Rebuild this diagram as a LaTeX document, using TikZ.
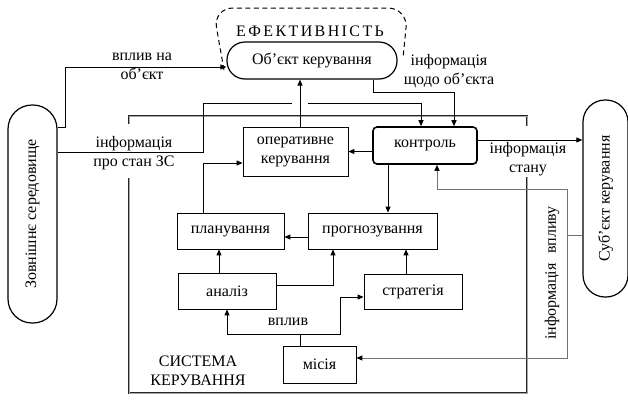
\documentclass[tikz,border=0pt]{standalone}
\usepackage{fontspec}
\setmainfont{Liberation Serif}
\newfontfamily\spacedfont[LetterSpace=15]{Liberation Serif}
\usetikzlibrary{arrows.meta,positioning,calc}

\begin{document}
\begin{tikzpicture}[x=1pt,y=-1pt,
  font=\fontsize{16}{19}\selectfont,
  blok/.style={draw, line width=0.8pt, inner sep=0pt, align=center},
  pill/.style={draw, line width=1.2pt, rounded corners=#1, inner sep=0pt},
  arr/.style={line width=1pt, -{Triangle[length=6pt,width=5pt]}},
  lin/.style={line width=1pt},
  fb/.style={line width=1pt, draw=black!55},
  fbarr/.style={line width=1pt, draw=black!55, -{Triangle[length=6pt,width=5pt,color=black]}},
  kordon/.style={draw=black!85, double=black!35, double distance=1pt, line width=0.9pt},
  lbl/.style={align=center, inner sep=0pt}
]
\useasboundingbox (0,0) rectangle (628,399);
% Efektyvnist
\draw[dashed, dash pattern=on 5pt off 3.5pt, line width=1pt, rounded corners=20pt]
  (224,70) -- (213,8) -- (408,8) -- (403,58);
\node[lbl, font=\spacedfont\fontsize{16}{19}\selectfont] (ef) at (310,31) {ЕФЕКТИВНІСТЬ};
% Boundary of the control system
\coordinate (kA) at (129,124);
\coordinate (kB) at (129,116);
\coordinate (kC) at (527,116);
\coordinate (kD) at (527,126);
\coordinate (kE) at (527,177);
\coordinate (kF) at (527,393);
\coordinate (kG) at (129,393);
\coordinate (kH) at (129,178);
\draw[kordon] (kA) -- (kB) -- (kC) -- (kD);
\draw[kordon] (kE) -- (kF) -- (kG) -- (kH);
% Outer blocks
\node[pill=18pt, minimum width=170pt, minimum height=37pt] (obj) at (312,60.5) {Об’єкт керування};
\node[pill=24pt, minimum width=49pt, minimum height=218pt] (ser) at (32.5,214) {\rotatebox{90}{Зовнішнє середовище}};
\node[pill=22pt, minimum width=45pt, minimum height=197pt] (subj) at (605.5,198.5) {\rotatebox{90}{Суб’єкт керування}};
% Inner blocks
\node[blok, minimum width=105pt, minimum height=49pt] (oper) at (295.5,151.5) {оперативне\\керування};
\node[blok, line width=1.6pt, rounded corners=4pt, minimum width=104pt, minimum height=37pt] (kontr) at (425,145.5) {контроль};
\node[blok, minimum width=107pt, minimum height=36pt] (plan) at (230.5,231) {планування};
\node[blok, minimum width=129pt, minimum height=36pt] (prog) at (372.5,231) {прогнозування};
\node[blok, minimum width=98pt, minimum height=36pt] (anal) at (227,291) {аналіз};
\node[blok, minimum width=98pt, minimum height=35pt] (strat) at (413,291.5) {стратегія};
\node[blok, minimum width=73pt, minimum height=37pt] (mis) at (319.5,364.5) {місія};
% Labels
\node[lbl] (vpl1) at (142,66.5) {вплив на\\об’єкт};
\node[lbl] (inf1) at (134,153.5) {інформація\\про стан ЗС};
\node[lbl] (inf2) at (449,71) {інформація\\щодо об’єкта};
\node[lbl] (inf3) at (528,159) {інформація\\стану};
\node[lbl] (vpl2) at (288,322) {вплив};
\node[lbl] (sys) at (198,371) {СИСТЕМА\\КЕРУВАННЯ};
\node[lbl] (inf4) at (552,273) {\rotatebox{90}{інформація\hspace{0.6em}впливу}};
% vplyv na obiekt
\coordinate (b1) at (65,127);
\draw[arr] (ser.east |- b1) -- (b1) |- ([yshift=-6.5pt]obj.west);
% informatsiia pro stan ZS
\coordinate (b2a) at (203,152);
\coordinate (b2) at (203,103);
\coordinate (hopL) at (292,103);
\coordinate (hopR) at (308,103);
\draw[lin] (ser.east |- b2a) -- (b2a) -- (b2) -- (hopL);
\draw[arr] (hopR) -| ([xshift=-4pt]kontr.north);
% operatyvne -> obiekt
\coordinate (ou) at ([xshift=4.5pt]oper.north);
\draw[arr] (ou) -- (ou |- obj.south);
% informatsiia shchodo obiekta
\coordinate (b3) at (454,92);
\draw[arr] ([xshift=61pt]obj.south) |- (b3) -- (b3 |- kontr.north);
% kontrol -> ...
\draw[arr] (kontr.west |- oper.east) -- (oper.east);
\coordinate (ks) at ([yshift=5.5pt]kontr.east);
\draw[arr] (ks) -- (ks -| subj.west);
\coordinate (kp) at ([xshift=-37pt]kontr.south);
\draw[arr] (kp) -- (kp |- prog.north);
% prohnozuvannia, planuvannia
\coordinate (pp) at ([yshift=-6pt]prog.west);
\draw[arr] (pp) -- (pp -| plan.east);
\draw[arr] ([xshift=-27.5pt]plan.north) |- ([yshift=-11.5pt]oper.west);
% analiz, stratehiia
\coordinate (ap) at ([xshift=-8pt]anal.north);
\draw[arr] (ap) -- (ap |- plan.south);
\draw[arr] ([yshift=6pt]anal.east) -| ([xshift=-39.5pt]prog.south);
\coordinate (sp) at ([xshift=-7pt]strat.north);
\draw[arr] (sp) -- (sp |- prog.south);
% misiia
\coordinate (vp) at (300,334);
\coordinate (vq) at (340,334);
\draw[lin] (vp |- mis.north) -- (vp);
\draw[arr] (vp) -| (anal.south);
\draw[arr] (vp) -- (vq) |- ([yshift=-5.5pt]strat.west);
% informatsiia vplyvu
\coordinate (fb) at (567,235);
\coordinate (fbt) at (567,189);
\coordinate (fbb) at (567,358);
\draw[fb] (subj.west |- fb) -- (fb);
\draw[fbarr] (fb) -- (fbt) -| ([xshift=12pt]kontr.south);
\draw[fbarr] (fb) -- (fbb) -- (mis.east |- fbb);
\end{tikzpicture}
\end{document}
